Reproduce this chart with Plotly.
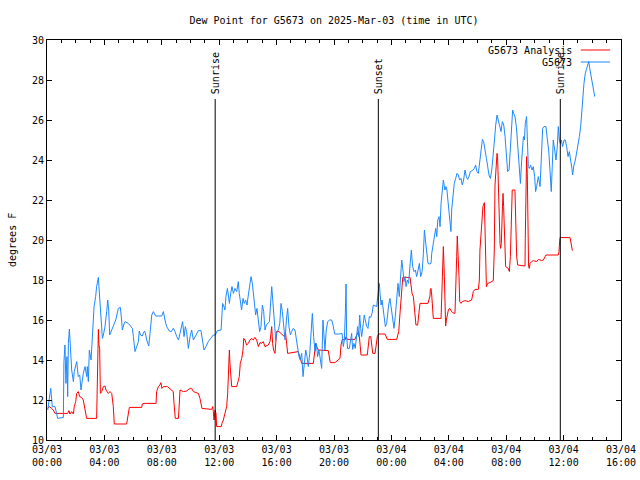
import pandas as pd
import plotly.graph_objects as go

TITLE = "Dew Point for G5673 on 2025-Mar-03 (time in UTC)"
BASE = pd.Timestamp("2025-03-03 00:00")

# Observed dew point (G5673): hours after 03/03 00:00 UTC, degrees F
obs_hours = [
    0.05, 0.21, 0.26, 0.37, 0.56, 0.67, 0.74, 1.14, 1.18, 1.25, 1.32, 1.39, 1.44, 1.49, 1.56, 1.63,
    1.72, 1.84, 1.9, 2.07, 2.18, 2.28, 2.37, 2.53, 2.65, 2.77, 2.81, 2.88, 2.95, 3.07, 3.11, 3.18,
    3.28, 3.39, 3.46, 3.58, 3.65, 3.72, 3.76, 3.86, 3.93, 4.04, 4.16, 4.23, 4.3, 4.37, 4.51, 4.67,
    4.79, 4.97, 5.11, 5.2, 5.25, 5.34, 5.44, 5.67, 5.95, 6.02, 6.13, 6.37, 6.43, 6.52, 6.64, 6.76,
    6.83, 6.95, 7.09, 7.18, 7.3, 7.41, 7.57, 7.99, 8.11, 8.22, 8.34, 8.52, 8.66, 8.8, 8.92, 9.04,
    9.16, 9.27, 9.39, 9.45, 9.55, 9.64, 9.73, 9.85, 9.97, 10.08, 10.2, 10.32, 10.43, 10.55, 10.73,
    10.85, 10.94, 11.08, 11.24, 11.41, 11.59, 11.73, 11.87, 12.13, 12.2, 12.24, 12.33, 12.4, 12.47,
    12.57, 12.64, 12.71, 12.8, 12.89, 12.99, 13.1, 13.22, 13.33, 13.4, 13.47, 13.56, 13.66, 13.75,
    13.84, 13.94, 14.03, 14.12, 14.22, 14.31, 14.38, 14.45, 14.54, 14.63, 14.73, 14.82, 14.91,
    15.01, 15.1, 15.19, 15.29, 15.42, 15.5, 15.66, 15.75, 15.84, 15.94, 16.03, 16.12, 16.22, 16.31,
    16.4, 16.49, 16.59, 16.68, 16.77, 16.86, 16.96, 17.05, 17.16, 17.28, 17.37, 17.47, 17.56,
    17.65, 17.75, 17.84, 17.93, 18.03, 18.12, 18.21, 18.31, 18.4, 18.49, 18.58, 18.68, 18.77,
    18.86, 18.95, 19.05, 19.14, 19.23, 19.3, 19.37, 19.46, 19.56, 19.7, 19.84, 19.93, 20.02,
    20.05, 20.42, 20.56, 20.65, 20.72, 20.79, 20.84, 20.88, 20.95, 21.07, 21.16, 21.23, 21.3,
    21.39, 21.48, 21.58, 21.65, 21.72, 21.79, 21.86, 21.93, 22.04, 22.11, 22.18, 22.28, 22.37,
    22.46, 22.56, 22.65, 22.74, 22.84, 22.98, 23.02, 23.11, 23.16, 23.21, 23.28, 23.35, 23.44,
    23.51, 23.58, 23.67, 23.74, 23.81, 23.9, 24.0, 24.09, 24.18, 24.27, 24.37, 24.46, 24.55,
    24.65, 24.72, 24.79, 24.88, 24.95, 25.02, 25.11, 25.2, 25.3, 25.39, 25.48, 25.58, 25.67,
    25.76, 25.86, 25.95, 26.04, 26.14, 26.23, 26.3, 26.37, 26.46, 26.55, 26.65, 26.76, 26.81,
    26.92, 27.0, 27.09, 27.16, 27.23, 27.32, 27.39, 27.46, 27.55, 27.62, 27.73, 27.8, 27.87,
    27.97, 28.08, 28.15, 28.2, 28.29, 28.38, 28.48, 28.57, 28.66, 28.76, 28.85, 28.94, 29.03,
    29.13, 29.22, 29.31, 29.41, 29.5, 29.64, 29.78, 29.87, 29.96, 30.06, 30.15, 30.24, 30.34,
    30.43, 30.52, 30.62, 30.71, 30.8, 30.9, 30.99, 31.08, 31.17, 31.27, 31.36, 31.45, 31.55,
    31.64, 31.73, 31.83, 31.92, 32.01, 32.1, 32.2, 32.29, 32.38, 32.45, 32.52, 32.61, 32.71,
    32.8, 32.89, 32.99, 33.08, 33.15, 33.2, 33.27, 33.33, 33.42, 33.47, 33.54, 33.61, 33.7,
    33.8, 33.89, 33.98, 34.05, 34.12, 34.24, 34.36, 34.45, 34.54, 34.63, 34.77, 34.87, 34.96,
    35.05, 35.14, 35.21, 35.28, 35.38, 35.47, 35.56, 35.63, 35.7, 35.77, 35.84, 35.93, 36.03,
    36.12, 36.21, 36.31, 36.4, 36.49, 36.58, 36.63, 36.72, 36.82, 36.91, 37.0, 37.1, 37.19,
    37.26, 37.33, 37.42, 37.51, 37.61, 37.7, 37.75, 37.84, 37.93, 38.03, 38.12, 38.17,
]
obs_values = [
    11.5, 12.33, 12.58, 11.67, 11.67, 11.33, 11.08, 11.13, 13.92, 14.75, 12.83, 14.17, 12.17, 14.83, 15.55, 14.67,
    13.5, 12.92, 13.42, 13.92, 13.17, 13.25, 12.5, 13.33, 13.67, 13.17, 13.67, 12.92, 14.5, 14.0, 14.67, 15.83,
    16.67, 17.17, 17.67, 18.13, 17.33, 16.67, 15.83, 15.08, 15.25, 15.67, 16.42, 17.0, 16.5, 15.25, 15.5, 15.83,
    16.0, 16.58, 16.63, 16.0, 15.5, 15.75, 15.92, 15.83, 15.58, 15.17, 14.42, 14.92, 15.45, 15.25, 15.2, 15.42,
    15.42, 15.0, 14.7, 15.33, 16.25, 16.42, 16.2, 16.2, 16.42, 16.0, 15.67, 15.45, 15.42, 15.58, 15.42, 15.17,
    15.0, 15.33, 15.83, 15.92, 15.17, 15.67, 15.42, 14.58, 15.17, 15.5, 15.0, 15.17, 15.33, 15.47, 15.47,
    14.75, 14.5, 14.67, 14.92, 15.08, 15.25, 15.25, 15.47, 15.5, 16.17, 16.83, 16.67, 16.5, 17.17,
    17.58, 17.25, 16.83, 17.33, 17.67, 17.33, 17.58, 17.42, 17.92, 17.33, 16.83, 16.5, 17.08, 16.83,
    17.0, 16.75, 17.25, 17.83, 18.17, 17.83, 17.33, 16.67, 16.25, 16.58, 16.08, 15.42, 15.67,
    16.75, 16.42, 15.5, 15.75, 15.83, 15.92, 17.67, 16.83, 15.67, 15.0, 15.42, 15.5, 15.83, 16.83,
    16.42, 15.67, 15.0, 16.0, 16.58, 15.67, 15.25, 15.42, 15.58, 15.5, 15.0, 14.58, 14.17,
    14.0, 14.33, 13.17, 13.83, 14.5, 14.17, 13.67, 14.33, 15.67, 16.33, 15.17, 14.42, 14.83,
    14.17, 14.5, 14.0, 13.58, 16.0, 14.83, 14.5, 15.5, 15.92, 16.0, 16.0, 15.75, 15.42,
    15.3, 15.3, 15.33, 14.67, 15.0, 16.33, 17.8, 15.17, 14.58, 14.58, 15.0, 15.33, 14.53,
    14.83, 14.58, 15.33, 15.67, 15.17, 16.25, 15.58, 15.17, 15.83, 16.25, 16.0, 15.67, 15.58,
    16.17, 16.13, 16.33, 16.75, 16.7, 16.67, 17.0, 17.42, 17.83, 17.33, 16.75, 17.0, 16.33,
    15.92, 15.67, 15.83, 16.42, 16.75, 17.08, 16.5, 16.0, 15.58, 16.17, 17.0, 17.83, 17.17,
    18.42, 19.0, 18.58, 17.92, 18.17, 17.67, 18.0, 17.83, 18.75, 19.5, 18.67, 18.42, 18.5,
    18.17, 18.5, 18.83, 18.17, 18.42, 19.33, 20.5, 20.0, 19.25, 18.83, 18.8, 18.83, 19.33,
    19.83, 20.17, 20.58, 20.17, 21.0, 21.17, 20.67, 21.83, 22.67, 23.0, 22.5, 22.67, 22.5,
    21.83, 20.83, 20.42, 21.5, 22.17, 22.83, 23.08, 23.33, 23.25, 23.0, 23.08, 22.75, 23.0,
    23.5, 23.17, 23.03, 23.17, 23.42, 23.47, 23.58, 23.75, 23.42, 23.33, 24.0, 24.5, 25.03,
    24.92, 24.42, 24.08, 23.67, 23.25, 23.08, 23.5, 24.17, 25.17, 25.75, 26.25, 26.0, 25.67,
    25.42, 25.92, 25.75, 25.17, 24.17, 23.42, 23.5, 24.5, 25.5, 26.5, 26.33, 26.17, 25.67,
    24.58, 23.42, 22.83, 24.0, 25.0, 25.17, 25.0, 25.83, 26.17, 25.33, 23.67, 23.58, 23.75,
    23.5, 23.67, 23.17, 22.42, 22.67, 23.17, 22.67, 24.5, 25.58, 25.67, 25.67, 25.0, 24.5,
    23.5, 22.42, 23.67, 25.0, 24.5, 24.0, 24.67, 25.67, 25.0, 24.83, 25.0, 24.67, 25.0,
    25.0, 24.67, 24.17, 24.42, 24.08, 23.58, 23.25, 23.75, 24.0, 24.33, 24.75, 25.17, 25.67,
    26.17, 27.0, 27.83, 28.33, 28.58, 28.75, 28.92, 28.5, 28.17, 27.83, 27.33, 27.17,
]

# Analysis dew point (G5673 Analysis)
ana_hours = [
    0.05, 0.16, 0.32, 0.44, 0.56, 1.44, 1.53, 1.6, 1.72, 1.84, 1.9, 2.0, 2.07, 2.18, 2.28, 2.42,
    2.53, 2.65, 2.76, 3.46, 3.48, 3.53, 3.58, 3.62, 3.67, 3.72, 3.81, 3.93, 4.04, 4.11, 4.27, 4.39,
    4.51, 4.62, 4.69, 5.55, 5.67, 5.74, 6.6, 6.64, 6.76, 7.6, 7.64, 7.76, 7.87, 7.94, 8.01, 8.11,
    8.39, 8.53, 8.69, 8.8, 8.85, 8.94, 9.16, 9.22, 9.27, 9.5, 9.73, 9.97, 10.08, 10.2, 10.55, 10.66,
    10.73, 10.8, 11.48, 11.55, 11.59, 11.64, 11.71, 11.78, 11.82, 12.15, 12.19, 12.29, 12.4, 12.52,
    12.59, 12.64, 12.71, 12.75, 12.8, 12.87, 13.22, 13.33, 13.4, 13.47, 13.57, 13.66, 13.71, 13.8,
    13.91, 14.03, 14.14, 14.26, 14.38, 14.49, 14.61, 14.73, 14.84, 14.96, 15.07, 15.19, 15.42,
    15.54, 15.61, 15.66, 15.72, 15.79, 15.89, 15.93, 16.0, 16.17, 16.4, 16.54, 16.63, 16.7, 16.77,
    17.51, 17.63, 17.75, 18.56, 18.63, 18.72, 18.79, 18.91, 19.6, 19.67, 19.74, 20.07, 20.42,
    20.49, 20.58, 20.77, 20.84, 20.93, 21.46, 21.53, 21.63, 21.72, 21.77, 21.81, 21.88, 22.32,
    22.39, 22.46, 22.56, 22.63, 22.7, 22.86, 22.93, 23.02, 23.11, 23.55, 23.62, 23.71, 24.37,
    24.44, 24.51, 24.6, 24.69, 24.79, 25.3, 25.34, 25.44, 25.53, 25.62, 25.71, 25.83, 25.9,
    25.99, 26.55, 26.6, 26.69, 26.71, 26.76, 26.81, 26.85, 26.92, 27.46, 27.5, 27.57, 27.62,
    27.69, 27.73, 27.78, 27.83, 27.87, 27.97, 28.06, 28.15, 28.25, 28.43, 28.5, 28.55, 28.59,
    28.66, 28.71, 28.76, 28.85, 28.94, 29.13, 29.36, 29.59, 29.71, 29.83, 30.06, 30.13, 30.17,
    30.29, 30.38, 30.48, 30.52, 30.57, 30.62, 30.71, 30.87, 31.1, 31.17, 31.22, 31.29, 31.36,
    31.4, 31.45, 31.5, 31.57, 31.61, 31.66, 31.73, 31.78, 31.82, 31.87, 31.92, 31.96, 32.15,
    32.22, 32.29, 32.36, 32.42, 32.61, 32.66, 32.73, 32.8, 33.31, 33.33, 33.38, 33.42, 33.47,
    33.52, 33.56, 33.61, 33.66, 33.77, 33.89, 34.12, 34.24, 34.47, 34.59, 34.71, 34.78, 35.63,
    35.68, 35.7, 35.75, 36.45, 36.52, 36.56, 36.61,
]
ana_values = [
    11.58, 11.67, 11.58, 11.5, 11.33, 11.33, 11.47, 11.3, 11.42, 11.3, 11.67, 11.92, 12.33, 12.42, 12.17, 12.12,
    12.0, 11.58, 11.08, 11.08, 12.17, 14.0, 15.53, 14.75, 14.58, 12.33, 12.42, 12.67, 12.7, 12.5, 12.33, 12.42,
    12.33, 11.67, 10.8, 10.8, 11.5, 11.63, 11.63, 11.8, 11.83, 11.83, 12.42, 12.67, 12.75, 12.87, 12.58, 12.67,
    12.67, 12.58, 12.5, 12.42, 11.83, 11.08, 11.08, 12.0, 12.5, 12.42, 12.45, 12.58, 12.58, 12.42, 12.33, 12.08,
    11.75, 11.58, 11.53, 11.67, 11.42, 11.0, 11.5, 11.33, 10.67, 10.67, 10.83, 11.0, 11.33, 11.67,
    12.33, 13.75, 14.5, 13.83, 13.25, 12.67, 12.67, 12.92, 13.17, 13.83, 14.08, 14.5, 15.08, 15.0,
    14.75, 14.83, 15.0, 15.08, 15.0, 15.13, 15.0, 14.67, 14.87, 14.83, 14.92, 14.67, 14.75,
    14.92, 15.33, 15.67, 14.83, 14.5, 14.33, 15.0, 15.42, 15.42, 15.25, 15.17, 15.33, 14.67, 14.33,
    14.42, 14.17, 13.83, 13.83, 14.25, 14.83, 14.67, 14.5, 14.47, 14.17, 13.87, 13.87, 14.08,
    14.75, 15.03, 15.0, 15.17, 15.03, 15.03, 15.17, 15.33, 15.42, 15.17, 14.67, 14.25, 14.25,
    14.67, 15.17, 15.17, 14.83, 14.33, 14.33, 14.67, 15.17, 15.3, 15.3, 15.2, 15.03, 15.03,
    15.17, 15.42, 16.33, 17.5, 18.13, 18.13, 17.83, 17.33, 17.17, 16.5, 15.75, 15.75, 16.17,
    16.83, 16.83, 17.0, 17.2, 17.5, 17.58, 17.25, 16.83, 16.08, 16.08, 16.83, 18.17, 19.67,
    18.17, 16.67, 15.7, 16.0, 16.17, 16.5, 16.58, 16.5, 16.37, 16.33, 17.5, 19.17, 20.2,
    19.33, 18.17, 16.92, 16.83, 16.92, 16.97, 16.92, 17.0, 17.42, 17.53, 17.53, 18.0, 19.5,
    20.83, 21.67, 21.87, 20.83, 18.83, 17.67, 17.83, 17.87, 17.97, 19.5, 22.75, 23.92, 24.33,
    24.17, 22.5, 21.17, 19.83, 19.58, 19.83, 21.5, 22.33, 21.67, 20.5, 19.33, 18.67, 18.58,
    18.42, 19.17, 20.67, 22.5, 22.5, 20.83, 19.17, 18.75, 18.7, 20.08, 22.83, 24.17, 23.33,
    20.0, 18.67, 18.58, 18.83, 18.92, 18.97, 18.92, 19.03, 18.97, 19.0, 19.17, 19.25, 19.25,
    19.42, 19.67, 20.12, 20.12, 19.75, 19.5, 19.47,
]

# Sun events (hours after 03/03 00:00 UTC)
sun_labels = ["Sunrise", "Sunset", "Sunrise"]
sun_hours = [11.72, 23.09, 35.77]
sun_line_top = 27.05

series_names = ["G5673 Analysis", "G5673"]
series_colors = ["#ff0000", "#1e88ff"]

def to_time(hours):
    return [BASE + pd.Timedelta(hours=h) for h in hours]

FONT = "DejaVu Sans Mono"

fig = go.Figure()
fig.add_trace(go.Scatter(x=to_time(ana_hours), y=ana_values, mode="lines",
                         name=series_names[0], line=dict(color=series_colors[0], width=1)))
fig.add_trace(go.Scatter(x=to_time(obs_hours), y=obs_values, mode="lines",
                         name=series_names[1], line=dict(color=series_colors[1], width=1)))

for lab, h in zip(sun_labels, sun_hours):
    t = BASE + pd.Timedelta(hours=h)
    fig.add_shape(type="line", xref="x", yref="y", x0=t, x1=t, y0=10, y1=sun_line_top,
                  line=dict(color="black", width=1))
    fig.add_annotation(x=t, y=sun_line_top + 0.15, xref="x", yref="y", text=lab,
                       textangle=-90, showarrow=False, xanchor="center", yanchor="bottom",
                       font=dict(family=FONT, size=10, color="black"))

# gnuplot-style key: right-aligned text with sample line on the right
key_y = [0.975, 0.945]
for name, col, ky in zip(series_names, series_colors, key_y):
    fig.add_annotation(x=0.918, y=ky, xref="paper", yref="paper", text=name, showarrow=False,
                       xanchor="right", yanchor="middle",
                       font=dict(family=FONT, size=10, color="black"))
    fig.add_shape(type="line", xref="paper", yref="paper", x0=0.930, x1=0.981, y0=ky, y1=ky,
                  line=dict(color=col, width=1))

fig.add_annotation(x=-0.061, y=0.5, xref="paper", yref="paper", text="degrees F",
                   textangle=-90, showarrow=False, xanchor="center", yanchor="middle",
                   font=dict(family=FONT, size=10, color="black"))

fig.update_layout(
    width=640, height=480,
    margin=dict(l=47, r=19, t=40, b=40, autoexpand=False),
    paper_bgcolor="white", plot_bgcolor="white",
    showlegend=False,
    font=dict(family=FONT, size=10, color="black"),
    title=dict(text=TITLE, x=0.5, xref="paper", xanchor="center", y=1 - 20 / 480,
               yanchor="middle", font=dict(family=FONT, size=10, color="black")),
)
fig.update_xaxes(
    type="date", automargin=False,
    range=[BASE, BASE + pd.Timedelta(hours=40)],
    dtick=4 * 3600 * 1000, tick0=BASE,
    tickformat="%m/%d<br>%H:%M",
    ticks="inside", ticklen=5, tickcolor="black",
    minor=dict(dtick=3600 * 1000, ticks="inside", ticklen=3, tickcolor="black", showgrid=False),
    showline=True, linecolor="black", linewidth=1, mirror="ticks",
    showgrid=False, zeroline=False,
    tickfont=dict(family=FONT, size=10, color="black"),
)
fig.update_yaxes(
    automargin=False,
    range=[10, 30], dtick=2, tick0=10,
    ticks="inside", ticklen=5, tickcolor="black",
    showline=True, linecolor="black", linewidth=1, mirror="ticks",
    showgrid=False, zeroline=False,
    tickfont=dict(family=FONT, size=10, color="black"),
)

fig.write_html("out.html", config={"displayModeBar": False},
               post_script="document.body.style.margin='0';document.body.style.overflow='hidden';")
